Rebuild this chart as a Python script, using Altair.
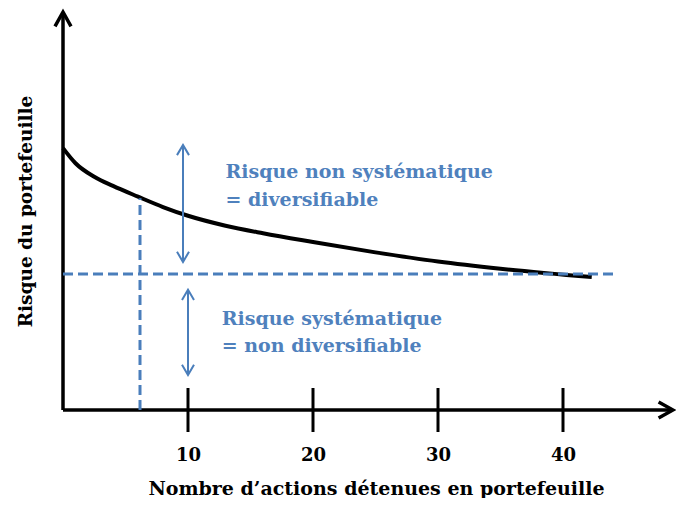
import altair as alt
import pandas as pd

# Curve: portfolio risk vs number of stocks held
curve_x = [0, 1, 2.5, 4, 6, 8, 10, 13, 16, 20, 25, 30, 35, 42.3]
curve_y = [65.8, 62.0, 58.6, 56.3, 53.6, 51.0, 48.8, 46.3, 44.4, 42.2, 39.6, 37.3, 35.5, 33.4]

# Systematic risk level (horizontal dashed) and a reference point (vertical dashed)
sys_level = 34.2
sys_end_x = 44.4
ref_x = 6.16
ref_y = 53.2

# Double arrows
arrow_x = [9.6, 10.0]
arrow_top = [66.6, 30.2]
arrow_bot = [37.2, 8.8]

tick_values = [10, 20, 30, 40]
x_max = 48.8
y_max = 100

ann_x = [13.0, 13.0, 12.7, 12.7]
ann_y = [58.3, 51.3, 21.4, 14.6]
ann_text = ["Risque non systématique", "= diversifiable",
            "Risque systématique", "= non diversifiable"]

BLUE = "#4A7EBB"
TBLUE = "#4F81BD"
FONT = "DejaVu Serif"

xs = alt.Scale(domain=[0, x_max], nice=False, zero=False)
ys = alt.Scale(domain=[0, y_max], nice=False, zero=False)

curve_df = pd.DataFrame({"x": curve_x, "y": curve_y})

base_x = alt.X("x:Q", scale=xs,
               axis=alt.Axis(values=tick_values, domain=False, ticks=False, tickSize=0, grid=False,
                             labelFont=FONT, labelFontWeight="bold", labelFontSize=18,
                             labelColor="#000000", labelBaseline="middle", labelPadding=45,
                             title="Nombre d’actions détenues en portefeuille",
                             titleFont=FONT, titleFontWeight="bold", titleFontSize=19,
                             titleColor="#000000", titleX=313, titleY=84,
                             titleBaseline="alphabetic", titleAlign="center"))
base_y = alt.Y("y:Q", scale=ys,
               axis=alt.Axis(domain=False, ticks=False, tickSize=0, labels=False, grid=False,
                             title="Risque du portefeuille",
                             titleFont=FONT, titleFontWeight="bold", titleFontSize=18.5,
                             titleColor="#000000", titleX=-38, titleY=199, titleAngle=270,
                             titleBaseline="middle", titleAlign="center"))

curve = alt.Chart(curve_df).mark_line(color="black", strokeWidth=4, interpolate="monotone").encode(
    x=base_x, y=base_y)

# axes lines
axes_df = pd.DataFrame({"x": [0, 0], "y": [0, 0], "x2": [0, x_max], "y2": [y_max, 0]})
axes = alt.Chart(axes_df).mark_rule(color="black", strokeWidth=3.5).encode(
    x=alt.X("x:Q", scale=xs), y=alt.Y("y:Q", scale=ys), x2="x2:Q", y2="y2:Q")

up_head = alt.Chart(pd.DataFrame({"x": [0], "y": [y_max]})).mark_point(
    shape="M-1,1.8L0,0L1,1.8", filled=False, color="black", strokeWidth=3.5, size=256, opacity=1
).encode(x=alt.X("x:Q", scale=xs), y=alt.Y("y:Q", scale=ys))
right_head = alt.Chart(pd.DataFrame({"x": [x_max], "y": [0]})).mark_point(
    shape="M-1.8,-1L0,0L-1.8,1", filled=False, color="black", strokeWidth=3.5, size=256, opacity=1
).encode(x=alt.X("x:Q", scale=xs), y=alt.Y("y:Q", scale=ys))

ticks = alt.Chart(pd.DataFrame({"x": tick_values})).mark_rule(color="black", strokeWidth=3).encode(
    x=alt.X("x:Q", scale=xs), y=alt.value(376), y2=alt.value(420))

dash_df = pd.DataFrame({"x": [0, ref_x], "y": [sys_level, 0], "x2": [sys_end_x, ref_x], "y2": [sys_level, ref_y]})
dashes = alt.Chart(dash_df).mark_rule(color=BLUE, strokeWidth=3, strokeDash=[10, 5]).encode(
    x=alt.X("x:Q", scale=xs), y=alt.Y("y:Q", scale=ys), x2="x2:Q", y2="y2:Q")

arr_df = pd.DataFrame({"x": arrow_x, "top": arrow_top, "bot": arrow_bot})
arr_lines = alt.Chart(arr_df).mark_rule(color=BLUE, strokeWidth=2).encode(
    x=alt.X("x:Q", scale=xs), y=alt.Y("top:Q", scale=ys), y2="bot:Q")
arr_up = alt.Chart(arr_df).mark_point(
    shape="M-1,1.7L0,0L1,1.7", filled=False, color=BLUE, strokeWidth=2, size=144, opacity=1
).encode(x=alt.X("x:Q", scale=xs), y=alt.Y("top:Q", scale=ys))
arr_down = alt.Chart(arr_df).mark_point(
    shape="M-1,-1.7L0,0L1,-1.7", filled=False, color=BLUE, strokeWidth=2, size=144, opacity=1
).encode(x=alt.X("x:Q", scale=xs), y=alt.Y("bot:Q", scale=ys))

ann_df = pd.DataFrame({"x": ann_x, "y": ann_y, "t": ann_text})
ann = alt.Chart(ann_df).mark_text(
    align="left", baseline="alphabetic", font=FONT, fontWeight="bold", fontSize=19, color=TBLUE
).encode(x=alt.X("x:Q", scale=xs), y=alt.Y("y:Q", scale=ys), text="t:N")

chart = alt.layer(curve, axes, ticks, dashes, arr_lines, arr_up, arr_down, up_head, right_head, ann).properties(
    width=610, height=398,
    autosize=alt.AutoSizeParams(type="none"),
    padding={"left": 55, "top": 4, "right": 3, "bottom": 88},
).configure(background="white").configure_view(stroke=None, strokeWidth=0, clip=False)

chart.save("out.html", embed_options={"renderer": "svg", "actions": False})
